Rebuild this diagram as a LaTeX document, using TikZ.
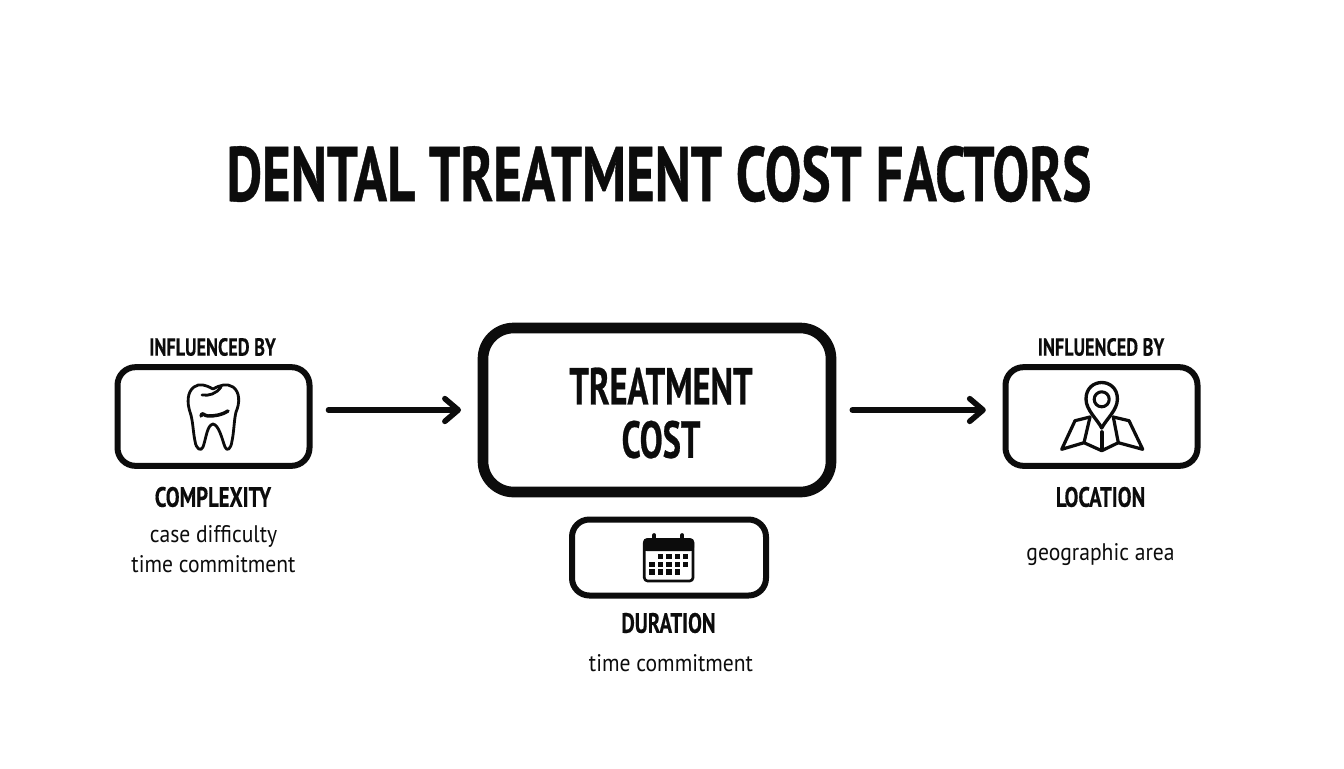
\documentclass[tikz,border=0pt]{standalone}
\usepackage{fontspec}
\usetikzlibrary{arrows.meta}
\newfontfamily\dintitle[FakeStretch=0.71,FakeBold=0.5]{PT Sans Bold}
\newfontfamily\dinmain[FakeStretch=0.66,FakeBold=0.5]{PT Sans Bold}
\newfontfamily\dinbold[FakeStretch=0.74,FakeBold=0.3]{PT Sans Bold}
\newfontfamily\dinreg[FakeStretch=0.90]{PT Sans}
\definecolor{ink}{HTML}{0C0C0C}
\tikzset{
  px/.style={x=0.75pt,y=-0.75pt},
  factorbox/.style={draw=ink,line width=4.5pt,rounded corners=13.5pt,minimum width=144pt,minimum height=74pt,inner sep=0pt},
  mainbox/.style={draw=ink,line width=8pt,rounded corners=23pt,minimum width=261pt,minimum height=123pt,align=center,inner sep=0pt},
  durbox/.style={draw=ink,line width=4.5pt,rounded corners=13pt,minimum width=145.5pt,minimum height=57pt,inner sep=0pt},
  flow/.style={draw=ink,line width=4.2pt,line cap=round,-{Straight Barb[length=10pt,width=17pt,round,line width=4.2pt]},shorten <=12pt,shorten >=12.5pt},
  titletext/.style={text=ink,font=\dintitle\fontsize{58}{58}\selectfont,inner sep=0pt},
  maintext/.style={text=ink,font=\dinmain\fontsize{39}{40}\selectfont,inner sep=0pt,align=center},
  headtext/.style={text=ink,font=\dinbold\fontsize{21}{21}\selectfont,inner sep=0pt},
  toptext/.style={text=ink,font=\dinbold\fontsize{18.5}{18.5}\selectfont,inner sep=0pt},
  subtext/.style={text=ink,font=\dinreg\fontsize{18}{22}\selectfont,inner sep=0pt,align=center},
  icon/.style={draw=ink,line width=2.1pt,line join=round,line cap=round},
  daycell/.style={fill=ink,draw=none}
}
\begin{document}
\begin{tikzpicture}[px]
\useasboundingbox (0,0) rectangle (1344,768);
\fill[white] (0,0) rectangle (1344,768);

\node[titletext] (title) at (659,174) {DENTAL TREATMENT COST FACTORS};

\node[factorbox] (complexity) at (213.5,416.5) {};
\node[mainbox] (cost) at (657,410) {};
\node[maintext] (costlabel) at (661,413) {TREATMENT\\COST};
\node[durbox] (duration) at (669,557.5) {};
\node[factorbox] (location) at (1101.5,416.5) {};

\draw[flow] (complexity.east |- cost.west) -- (cost.west);
\draw[flow] (cost.east) -- (location.west |- cost.east);

\node[toptext] (inflA) at (212.5,347) {INFLUENCED BY};
\node[toptext] (inflB) at (1101,347) {INFLUENCED BY};
\node[headtext] (cxhead) at (213,497) {COMPLEXITY};
\node[subtext] (cxsub) at (213.5,549) {case difficulty\\time commitment};
\node[headtext] (lochead) at (1100.5,497) {LOCATION};
\node[subtext] (locsub) at (1100.5,555) {geographic area};
\node[headtext] (durhead) at (668.5,623) {DURATION};
\node[subtext] (dursub) at (671,663) {time commitment};

% tooth
\draw[icon] (213,389) .. controls (206,385) and (199,383) .. (194,387)
  .. controls (187,392) and (187,403) .. (190,412)
  .. controls (193,420) and (193,432) .. (195,441)
  .. controls (196,449) and (201,452) .. (203,447)
  .. controls (206,439) and (207,425) .. (213,424)
  .. controls (219,425) and (222,439) .. (225,447)
  .. controls (227,452) and (231,449) .. (232,441)
  .. controls (234,432) and (234,420) .. (236,412)
  .. controls (240,403) and (240,392) .. (233,387)
  .. controls (227,383) and (220,385) .. (213,389) -- cycle;
\draw[icon] (202,395) .. controls (209,396) and (216,394) .. (221,387);
\draw[icon,line width=2.6pt] (201,416) .. controls (202,411) and (204,416) .. (208,416) .. controls (215,416) and (222,415) .. (228,411);

% map with pin
\draw[icon,line width=2.4pt] (1090,417) -- (1075,420.7) -- (1061.7,449.3) -- (1084,442.7) -- (1101.7,450.7) -- (1118.3,442.7) -- (1142.7,449.3) -- (1129,420.7) -- (1113.3,417);
\draw[icon,line width=2.4pt] (1090,417) -- (1084,442.7) (1113.3,417) -- (1118.3,442.7);
\draw[icon,line width=2.8pt] (1101.7,432) -- (1101.7,450);
\draw[icon,line width=2.5pt,fill=white] (1101.7,428) .. controls (1097,419) and (1086,410) .. (1086,399)
  .. controls (1086,377) and (1117.4,377) .. (1117.4,399)
  .. controls (1117.4,410) and (1106.4,419) .. (1101.7,428) -- cycle;
\draw[icon,line width=2.3pt] (1101.7,399.3) circle (7.5);

% calendar
\draw[icon,line width=2pt,rounded corners=2.5pt] (644.3,539.5) rectangle (693,581);
\fill[ink,rounded corners=2.5pt] (643.3,538.3) rectangle (694,551);
\fill[ink] (644,546) rectangle (693.7,551);
\draw[icon,line width=2.8pt] (654.3,535) -- (654.3,540) (682.3,535) -- (682.3,540);
\foreach \cx/\cy in {660.7/556.7,669/556.7,677.3/556.7,685.3/556.7,
  652/564.3,660.7/564.3,669/564.3,677.3/564.3,685.3/564.3,
  652/572,660.7/572,669/572,677.3/572}
  \fill[daycell] (\cx-2.7,\cy-2.7) rectangle (\cx+2.7,\cy+2.7);
\end{tikzpicture}
\end{document}
